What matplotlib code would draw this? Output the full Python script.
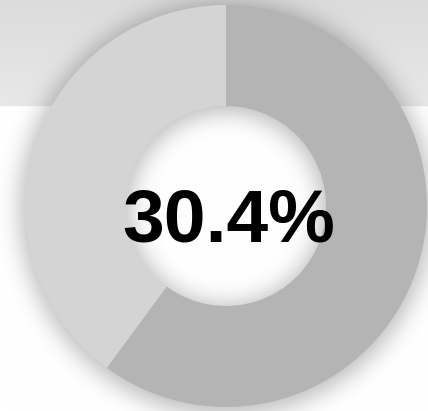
import math

import matplotlib
matplotlib.use("Agg")
import matplotlib.pyplot as plt
import numpy as np

# data
labels = ["A", "B"]
values = [60.1, 39.9]
colors = ["#b4b4b4", "#d4d4d4"]
center_label = "30.4%"

W, H = 428, 411
cx, cy = 226, H - 206
r_out, r_in = 201, 100

fig = plt.figure(figsize=(W / 100, H / 100), dpi=100)
ax = fig.add_axes([0, 0, 1, 1])

# background: grey band on top + soft shadow under the ring
yy, xx = np.mgrid[0:H, 0:W]
yy = H - yy - 0.5
xx = xx + 0.5
bg = np.ones((H, W))
band = yy > H - 107
bg[band] = 0.91 - 0.05 * (yy[band] - (H - 107)) / 107
rr = np.hypot(xx - cx, yy - (cy - 3))
erf = np.vectorize(math.erf)
sig = 11.0
s = 0.5 * (erf((r_out + 5 - rr) / (sig * 1.414)) - erf((r_in - 5 - rr) / (sig * 1.414)))
img = bg * (1 - 0.26 * s)
ax.imshow(np.dstack([img] * 3), extent=[0, W, 0, H], origin="upper",
          interpolation="bilinear", zorder=0)

ax.pie(values, colors=colors, radius=r_out, center=(cx, cy),
       startangle=90, counterclock=False, frame=True,
       wedgeprops=dict(width=r_out - r_in, linewidth=0))
ax.set_xlim(0, W)
ax.set_ylim(0, H)
ax.set_aspect("auto")
ax.axis("off")

ax.text(cx + 3, H - 241, center_label, ha="center", va="baseline",
        fontsize=54, fontweight="bold", family="Liberation Sans", color="black")

fig.savefig("out.png", dpi=100)
